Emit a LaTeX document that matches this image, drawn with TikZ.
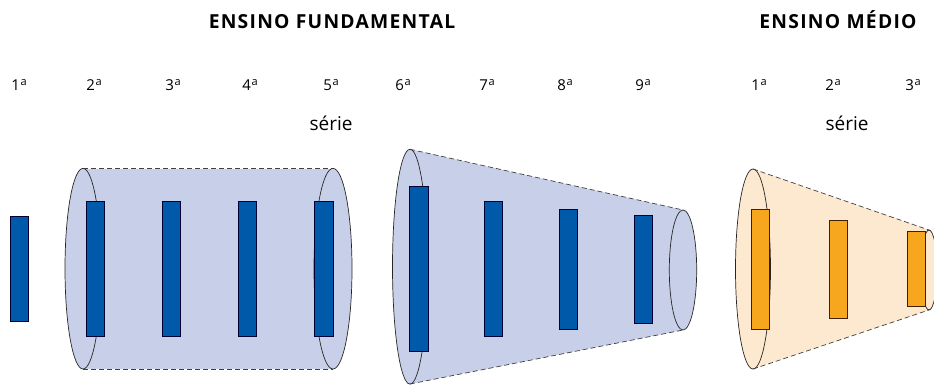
\documentclass[tikz,border=0pt]{standalone}
\usepackage{fontspec}
\setmainfont{Open Sans}
\newfontfamily\headfont[LetterSpace=6.5]{Open Sans}
% ordinal "a" set small and raised, without the underline of the font's own glyph
\newcommand{\ordA}{\kern0.6pt\raisebox{4.9pt}{\fontsize{11}{11}\selectfont a}}
\begin{document}
\begin{tikzpicture}[x=1pt,y=-1pt,
  bluebar/.style={draw=black!80!blue, line width=0.7pt, fill=barblue, inner sep=0pt, minimum width=18.4pt},
  orangebar/.style={draw=black!75!orange, line width=0.7pt, fill=barorange, inner sep=0pt, minimum width=18pt},
  rim/.style={draw=black!85, line width=0.7pt},
  edge/.style={draw=black!75, line width=0.7pt, dash pattern=on 5pt off 3pt},
  grade/.style={font=\fontsize{15}{17}\selectfont, anchor=base},
  serie/.style={font=\fontsize{19}{21}\selectfont, anchor=base},
  title/.style={font=\headfont\bfseries\fontsize{19.3}{21}\selectfont, anchor=base},
]
\definecolor{barblue}{HTML}{005AA9}
\definecolor{tubeblue}{HTML}{C8D0E9}
\definecolor{barorange}{HTML}{F7A71E}
\definecolor{tubeorange}{HTML}{FDE9CF}
\useasboundingbox (0,0) rectangle (934,385);
\clip (0,0) rectangle (934,385);

% headings
\node[title] (tf) at (332,29) {ENSINO FUNDAMENTAL};
\node[title] (tm) at (838,29) {ENSINO MÉDIO};

% grade labels
\foreach \n/\x/\d in {g1/19/1, g2/94/2, g3/173/3, g4/250/4, g5/331/5,
                       g6/403/6, g7/487/7, g8/565/8, g9/643/9,
                       h1/759/1, h2/833/2, h3/913/3}
  \node[grade] (\n) at (\x,90.5) {\d\ordA};
\node[serie] (s1) at (331,131) {série};
\node[serie] (s2) at (847,131) {série};

% cylinder: 2nd to 5th grade
\fill[tubeblue] (83,168.5) -- (333,168.5) -- (333,369) -- (83,369) -- cycle;
\filldraw[rim, fill=tubeblue] (83,268.7) ellipse [x radius=18, y radius=100.3];
\filldraw[rim, fill=tubeblue] (333,268.7) ellipse [x radius=19, y radius=100.3];
\draw[edge] (83,168.5) -- (333,168.5);
\draw[edge] (83,369) -- (333,369);

% cone: 6th to 9th grade
\fill[tubeblue] (410,149.3) -- (683,210) -- (683,330) -- (410,384) -- cycle;
\filldraw[rim, fill=tubeblue] (410,266.7) ellipse [x radius=17.5, y radius=117.4];
\filldraw[rim, fill=tubeblue] (683,270) ellipse [x radius=13.7, y radius=60];
\draw[edge] (410,149.3) -- (683,210);
\draw[edge] (410,384) -- (683,330);

% cone: secondary school
\fill[tubeorange] (753,169) -- (929,230) -- (929,310) -- (753,369) -- cycle;
\filldraw[rim, fill=tubeorange] (753,269) ellipse [x radius=17.5, y radius=100];
\filldraw[rim, fill=tubeorange] (929,270) ellipse [x radius=8, y radius=40];
\draw[edge] (753,169) -- (929,230);
\draw[edge] (753,369) -- (929,310);

% grade bars
\node[bluebar, minimum height=105pt] (b1) at (19.5,269.2) {};
\node[bluebar, minimum height=135pt] (b2) at (95.5,269.2) {};
\node[bluebar, minimum height=135pt] (b3) at (171.5,269.2) {};
\node[bluebar, minimum height=135pt] (b4) at (247.5,269.2) {};
\node[bluebar, minimum height=135pt, minimum width=19pt] (b5) at (323.8,269.2) {};
\node[bluebar, minimum height=165pt, minimum width=19pt] (b6) at (418.8,269.2) {};
\node[bluebar, minimum height=135.4pt] (b7) at (493.5,269) {};
\node[bluebar, minimum height=120.3pt] (b8) at (568.5,269.2) {};
\node[bluebar, minimum height=108.3pt] (b9) at (643.5,269.2) {};
\node[orangebar, minimum height=120pt] (c1) at (760.7,269.3) {};
\node[orangebar, minimum height=97.7pt, minimum width=17.6pt] (c2) at (838.5,269.2) {};
\node[orangebar, minimum height=75pt, minimum width=18.3pt] (c3) at (916.2,269.2) {};
\end{tikzpicture}
\end{document}
